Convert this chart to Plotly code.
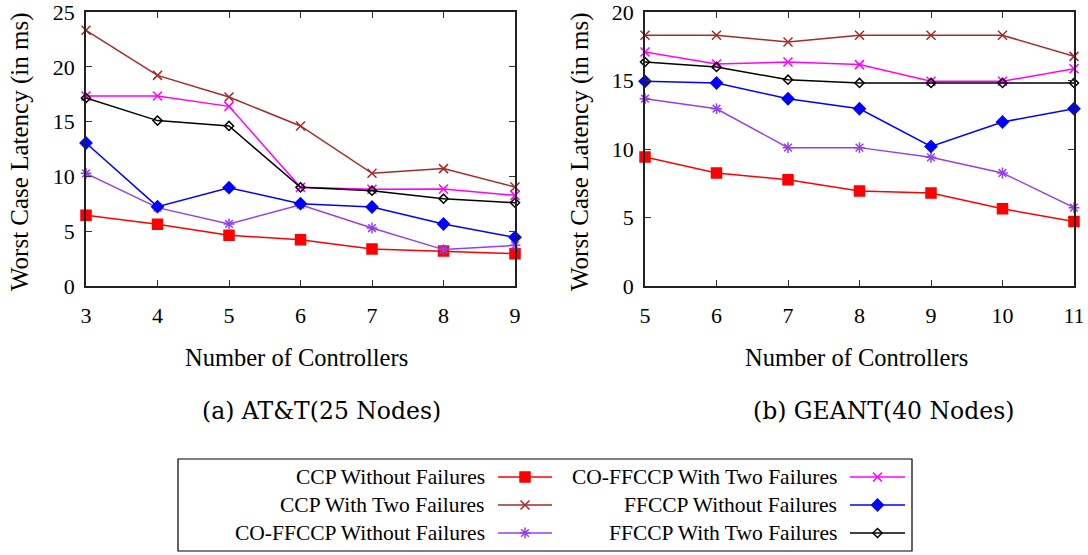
import plotly.graph_objects as go

# ---------------- data ----------------
x_att = [3, 4, 5, 6, 7, 8, 9]
x_geant = [5, 6, 7, 8, 9, 10, 11]

series_names = [
    "CCP Without Failures",
    "CCP With Two Failures",
    "CO-FFCCP Without Failures",
    "CO-FFCCP With Two Failures",
    "FFCCP Without Failures",
    "FFCCP With Two Failures",
]

att_ccp_wo = [6.45, 5.63, 4.62, 4.23, 3.38, 3.19, 2.95]
att_ccp_two = [23.33, 19.22, 17.24, 14.6, 10.28, 10.71, 9.03]
att_coff_wo = [10.28, 7.15, 5.66, 7.42, 5.29, 3.32, 3.71]
att_coff_two = [17.34, 17.34, 16.39, 9.0, 8.82, 8.85, 8.27]
att_ff_wo = [13.05, 7.24, 8.97, 7.51, 7.21, 5.66, 4.44]
att_ff_two = [17.15, 15.09, 14.6, 9.0, 8.7, 7.97, 7.6]

geant_ccp_wo = [9.42, 8.25, 7.76, 6.93, 6.79, 5.64, 4.70]
geant_ccp_two = [18.3, 18.3, 17.81, 18.3, 18.3, 18.3, 16.76]
geant_coff_wo = [13.67, 12.94, 10.1, 10.1, 9.39, 8.25, 5.72]
geant_coff_two = [17.08, 16.2, 16.35, 16.16, 14.94, 14.94, 15.86]
geant_ff_wo = [14.94, 14.82, 13.67, 12.94, 10.19, 11.97, 12.94]
geant_ff_two = [16.35, 15.99, 15.06, 14.82, 14.82, 14.82, 14.82]

att_series = [att_ccp_wo, att_ccp_two, att_coff_wo, att_coff_two, att_ff_wo, att_ff_two]
geant_series = [geant_ccp_wo, geant_ccp_two, geant_coff_wo, geant_coff_two, geant_ff_wo, geant_ff_two]

# ---------------- styles ----------------
colors = ["#ff0000", "#a52a2a", "#9440ed", "#ff00ff", "#0000ff", "#000000"]
symbols = ["square", "x-thin-open", "asterisk-open", "x-thin-open", "diamond", "diamond-open"]
msizes = [10, 9, 9, 9, 9, 7]

FONT = "Liberation Serif"
W, H = 1088, 555

fig = go.Figure()

for vals, c, s, ms, nm in zip(att_series, colors, symbols, msizes, series_names):
    fig.add_trace(go.Scatter(x=x_att, y=vals, mode="lines+markers", name=nm,
                             line=dict(color=c, width=1.5),
                             marker=dict(symbol=s, size=ms, color=c, line=dict(color=c, width=1.5)),
                             xaxis="x", yaxis="y", showlegend=False, cliponaxis=False))
for vals, c, s, ms, nm in zip(geant_series, colors, symbols, msizes, series_names):
    fig.add_trace(go.Scatter(x=x_geant, y=vals, mode="lines+markers", name=nm,
                             line=dict(color=c, width=1.5),
                             marker=dict(symbol=s, size=ms, color=c, line=dict(color=c, width=1.5)),
                             xaxis="x2", yaxis="y2", showlegend=False, cliponaxis=False))

# ---------------- custom legend (hidden axis covering the legend box) ----------------
lx0, lx1, ly0, ly1 = 178, 912, 459, 551  # legend box in px
col_text_right = [487, 839]
col_line = [(498, 552), (850, 905)]
row_y = [477, 505, 533]

for i in range(6):
    col, row = i // 3, i % 3
    xa, xb = col_line[col]
    yy = row_y[row]
    fig.add_trace(go.Scatter(x=[xa, xb], y=[yy, yy], mode="lines",
                             line=dict(color=colors[i], width=1.5),
                             xaxis="x3", yaxis="y3", showlegend=False, hoverinfo="skip"))
    fig.add_trace(go.Scatter(x=[(xa + xb) / 2], y=[yy], mode="markers",
                             marker=dict(symbol=symbols[i], size=msizes[i], color=colors[i],
                                         line=dict(color=colors[i], width=1.5)),
                             xaxis="x3", yaxis="y3", showlegend=False, hoverinfo="skip"))
    fig.add_annotation(x=col_text_right[col], y=yy, xref="x3", yref="y3", text=series_names[i],
                       showarrow=False, xanchor="right", yanchor="middle",
                       font=dict(family=FONT, size=21.5, color="black"))

fig.add_shape(type="rect", xref="paper", yref="paper",
              x0=lx0 / W, x1=lx1 / W, y0=1 - ly1 / H, y1=1 - ly0 / H,
              line=dict(color="black", width=1.2), fillcolor="rgba(0,0,0,0)")

# ---------------- axes ----------------
def xpx(a, b):
    return [a / W, b / W]

def ypx(top, bottom):
    return [1 - bottom / H, 1 - top / H]

common_axis = dict(showline=True, linecolor="#222", linewidth=1.5, mirror="ticks",
                   ticks="inside", ticklen=6, tickwidth=1.2, tickcolor="#333",
                   showgrid=False, zeroline=False, ticklabeloverflow="allow",
                   automargin=False,
                   tickfont=dict(family=FONT, size=22, color="black"))

fig.update_layout(
    template="none",
    width=W, height=H, margin=dict(l=0, r=0, t=0, b=0, pad=0, autoexpand=False),
    paper_bgcolor="white", plot_bgcolor="rgba(0,0,0,0)", showlegend=False,
    xaxis=dict(domain=xpx(86, 515), range=[3, 9], tickvals=x_att, anchor="y",
               ticklabelstandoff=9, **common_axis),
    yaxis=dict(domain=ypx(12, 286), range=[0, 25], tickvals=[0, 5, 10, 15, 20, 25], anchor="x",
               ticklabelstandoff=5, **common_axis),
    xaxis2=dict(domain=xpx(645, 1074), range=[5, 11], tickvals=x_geant, anchor="y2",
                ticklabelstandoff=9, **common_axis),
    yaxis2=dict(domain=ypx(12, 286), range=[0, 20], tickvals=[0, 5, 10, 15, 20], anchor="x2",
                ticklabelstandoff=5, **common_axis),
    xaxis3=dict(domain=xpx(lx0, lx1), range=[lx0, lx1], visible=False, anchor="y3",
                fixedrange=True, automargin=False),
    yaxis3=dict(domain=ypx(ly0, ly1), range=[ly1, ly0], visible=False, anchor="x3",
                fixedrange=True, automargin=False),
)

# axis titles and captions
for tx, cx, cap in [(296, 321, "(a) AT&amp;T(25 Nodes)"),
                    (856, 883, "(b) GEANT(40 Nodes)")]:
    fig.add_annotation(x=tx / W, y=1 - 357 / H, xref="paper", yref="paper",
                       text="Number of Controllers",
                       showarrow=False, xanchor="center", yanchor="middle",
                       font=dict(family=FONT, size=24.5, color="black"))
    fig.add_annotation(x=cx / W, y=1 - 411 / H, xref="paper", yref="paper", text=cap,
                       showarrow=False, xanchor="center", yanchor="middle",
                       font=dict(family="DejaVu Serif", size=23.5, color="black"))

for tx in [20, 580]:
    fig.add_annotation(x=tx / W, y=1 - 152 / H, xref="paper", yref="paper",
                       text="Worst Case Latency (in ms)", textangle=-90,
                       showarrow=False, xanchor="center", yanchor="middle",
                       font=dict(family=FONT, size=25, color="black"))

fig.write_html("out.html",
               post_script="document.body.style.margin='0';document.body.style.overflow='hidden';")
